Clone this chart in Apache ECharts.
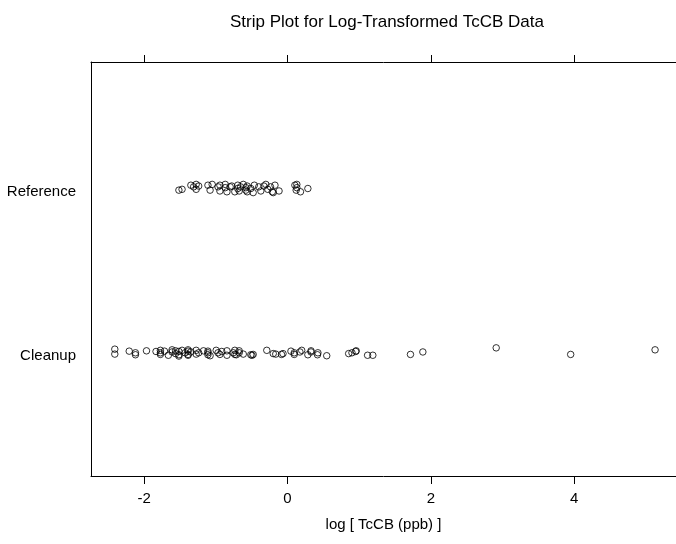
<!DOCTYPE html>
<html>
<head>
<meta charset="utf-8">
<script src="https://cdn.jsdelivr.net/npm/echarts@6/dist/echarts.min.js"></script>
<style>html,body{margin:0;padding:0;background:#fff}#c{width:676px;height:544px}</style>
</head>
<body>
<div id="c"></div>
<script>
// Category labels (position 1 = Cleanup, position 2 = Reference)
var categories = ['Cleanup', 'Reference'];
var xTicks = [-2, 0, 2, 4];

// log(TcCB ppb) values, Reference area
var referenceLog = [-1.514,-1.470,-1.347,-1.309,-1.273,-1.273,-1.238,-1.109,-1.079,-1.050,
  -0.968,-0.942,-0.942,-0.868,-0.868,-0.844,-0.799,-0.777,-0.734,-0.693,
  -0.693,-0.673,-0.654,-0.616,-0.580,-0.580,-0.562,-0.562,-0.511,-0.478,
  -0.462,-0.400,-0.371,-0.329,-0.301,-0.274,-0.236,-0.211,-0.198,-0.174,
  -0.117,0.104,0.122,0.131,0.131,0.182,0.285];
// vertical jitter (category units)
var referenceJitter = [-0.01,-0.005,0.02,0.01,0.025,-0.005,0.015,0.02,-0.01,0.025,
  0.01,-0.015,0.02,0.005,0.025,-0.02,0.01,0.015,-0.02,0.02,
  0.0,-0.015,0.01,0.025,-0.01,0.005,-0.02,0.015,0.0,-0.025,
  0.02,0.01,-0.015,0.015,0.025,-0.005,0.01,-0.02,-0.025,0.02,
  -0.015,0.02,-0.01,0.025,0.005,-0.02,0.0];

// log(TcCB ppb) values, Cleanup area
var cleanupLog = [-2.408,-2.408,-2.207,-2.120,-2.120,-1.966,-1.833,-1.772,-1.772,-1.772,
  -1.715,-1.661,-1.609,-1.609,-1.561,-1.561,-1.514,-1.514,-1.514,-1.470,
  -1.427,-1.386,-1.386,-1.386,-1.386,-1.347,-1.273,-1.273,-1.238,-1.171,
  -1.109,-1.109,-1.109,-1.079,-0.994,-0.968,-0.942,-0.916,-0.844,-0.844,
  -0.755,-0.734,-0.734,-0.713,-0.673,-0.673,-0.616,-0.511,-0.494,-0.478,
  -0.288,-0.198,-0.163,-0.083,-0.062,0.049,0.095,0.095,0.174,0.199,
  0.285,0.329,0.329,0.419,0.425,0.548,0.854,0.900,0.952,0.959,
  1.118,1.191,1.716,1.889,2.912,3.951,5.128];
var cleanupJitter = [0.022,-0.008,0.01,0.0,-0.012,0.012,0.008,-0.01,0.015,0.0,
  0.01,-0.015,0.005,0.018,-0.005,0.012,-0.02,0.008,-0.012,0.015,
  0.0,-0.01,0.01,0.018,-0.015,0.005,0.015,-0.008,0.0,0.012,
  -0.012,0.01,0.0,-0.018,0.015,0.0,-0.01,0.008,-0.015,0.012,
  0.0,0.015,-0.01,-0.012,0.012,0.0,-0.008,-0.012,-0.015,-0.01,
  0.015,-0.005,-0.008,-0.01,-0.005,0.01,-0.01,0.0,0.005,0.015,
  -0.012,0.012,0.005,-0.012,0.0,-0.018,-0.005,0.0,0.008,0.012,
  -0.015,-0.015,-0.01,0.005,0.03,-0.01,0.018];

var refData = referenceLog.map(function(v, i){ return [v, 2 + referenceJitter[i]]; });
var clnData = cleanupLog.map(function(v, i){ return [v, 1 + cleanupJitter[i]]; });

var font = 'Liberation Sans, Arial, Helvetica, sans-serif';
var chart = echarts.init(document.getElementById('c'), null, {renderer: 'canvas'});
var axisLineStyle = {color: '#000', width: 1};
chart.setOption({
  animation: false,
  backgroundColor: '#fff',
  title: {
    text: 'Strip Plot for Log-Transformed TcCB Data',
    left: 382, top: 9, textAlign: 'center',
    textStyle: {fontFamily: font, fontSize: 17, fontWeight: 'normal', color: '#000'}
  },
  grid: {left: 91, right: 0, top: 62, bottom: 68, containLabel: false},
  xAxis: [{
    type: 'value', position: 'bottom', min: -2.74, max: 5.42,
    axisLine: {show: true, onZero: false, lineStyle: axisLineStyle},
    axisTick: {show: true, length: 8, customValues: xTicks, lineStyle: axisLineStyle},
    axisLabel: {show: true, customValues: xTicks, margin: 15, color: '#000', fontFamily: font, fontSize: 15},
    splitLine: {show: false},
    name: 'log [ TcCB (ppb) ]', nameLocation: 'middle', nameGap: 41,
    nameTextStyle: {fontFamily: font, fontSize: 15, color: '#000'}
  }, {
    type: 'value', position: 'top', min: -2.74, max: 5.42,
    axisLine: {show: true, onZero: false, lineStyle: axisLineStyle},
    axisTick: {show: true, length: 7, customValues: xTicks, lineStyle: axisLineStyle},
    axisLabel: {show: false},
    splitLine: {show: false}
  }],
  yAxis: {
    type: 'value', min: 0.25, max: 2.77,
    axisLine: {show: true, onZero: false, lineStyle: axisLineStyle},
    axisTick: {show: false},
    axisLabel: {
      show: true, customValues: [0.98, 1.98], margin: 15, color: '#000', fontFamily: font, fontSize: 15,
      formatter: function(v){ return categories[Math.round(v) - 1]; }
    },
    splitLine: {show: false}
  },
  series: [{
    type: 'scatter', name: 'Reference', data: refData, symbol: 'circle', symbolSize: 6.5,
    itemStyle: {color: 'rgba(0,0,0,0)', borderColor: '#000', borderWidth: 1}
  }, {
    type: 'scatter', name: 'Cleanup', data: clnData, symbol: 'circle', symbolSize: 6.5,
    itemStyle: {color: 'rgba(0,0,0,0)', borderColor: '#000', borderWidth: 1}
  }]
});
</script>
</body>
</html>
